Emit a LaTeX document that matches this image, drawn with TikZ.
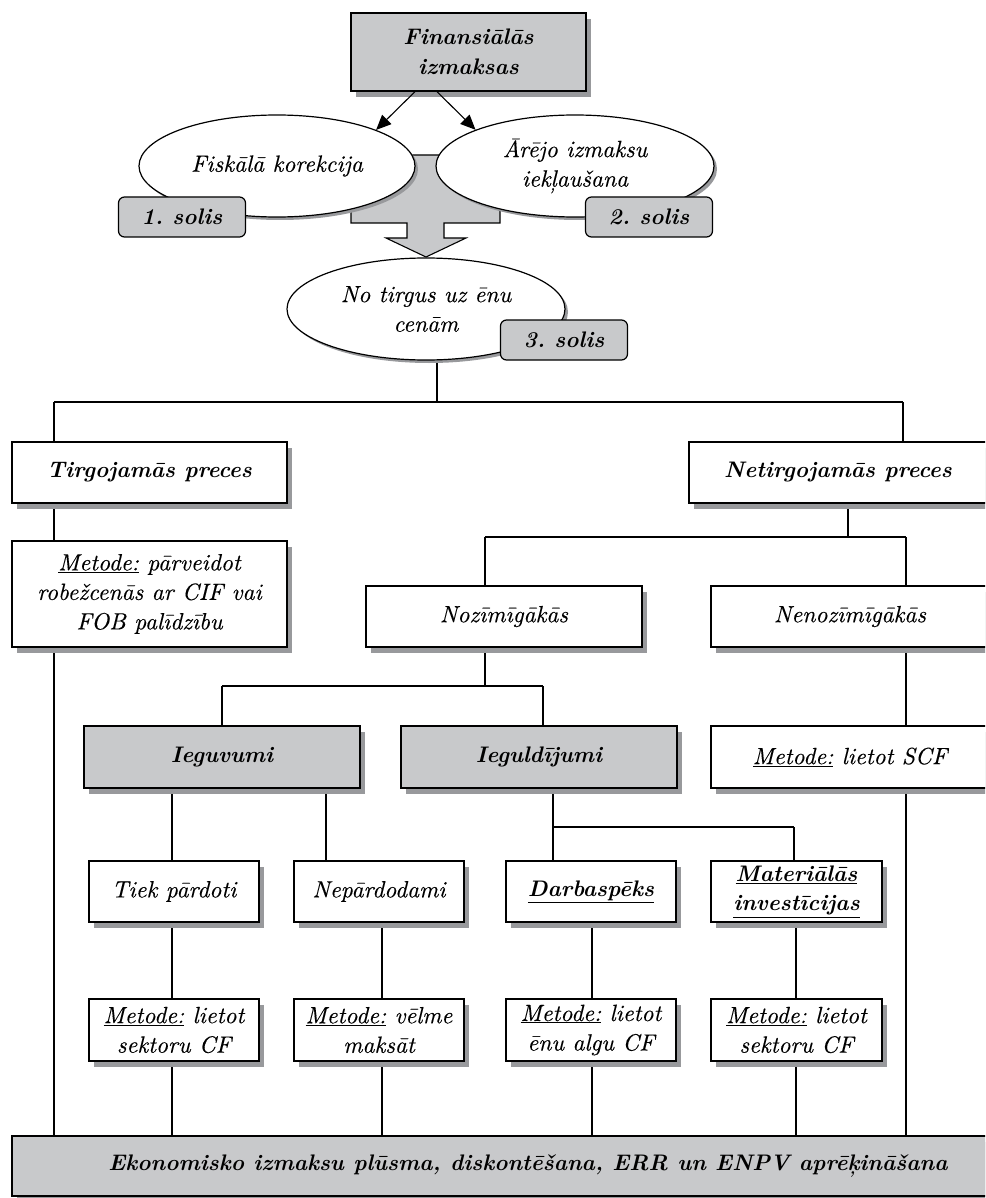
\documentclass[tikz,border=0pt]{standalone}
\usepackage{fontspec}
\setmainfont{lmroman10-regular.otf}[
  ItalicFont=lmroman10-italic.otf,
  BoldFont=lmroman10-bold.otf,
  BoldItalicFont=lmroman10-bolditalic.otf,
  ItalicFeatures={FakeBold=0.25}]
\frenchspacing
\usetikzlibrary{shapes.geometric,shadows,arrows.meta,backgrounds}
\definecolor{boxgray}{RGB}{200,201,203}
\definecolor{shadowgray}{RGB}{152,153,156}
\begin{document}
\begin{tikzpicture}[x=1pt,y=-1pt,
  it/.style={font=\itshape\fontsize{23.5}{29.5}\selectfont},
  bf/.style={font=\bfseries\itshape\fontsize{22.5}{29.5}\selectfont},
  shad/.style={drop shadow={shadow xshift=5pt,shadow yshift=-6pt,fill=shadowgray,opacity=1}},
  box/.style={draw=black,line width=1.3pt,rectangle,fill=white,align=center,inner sep=0pt,shad},
  gbox/.style={box,fill=boxgray},
  oval/.style={draw=black,line width=1.2pt,ellipse,fill=white,align=center,inner sep=0pt,
     drop shadow={shadow xshift=3pt,shadow yshift=-3pt,fill=shadowgray,opacity=1}},
  soltag/.style={draw=black,line width=1.2pt,rounded corners=6pt,fill=boxgray,align=center,
     inner sep=0pt,minimum width=127pt,minimum height=40pt,bf},
  conn/.style={draw=black,line width=1.1pt},
  arr/.style={conn,-{Triangle[length=15pt,width=13pt]}},
]
\useasboundingbox (0,0) rectangle (985,1198);
\clip (0,0) rectangle (985,1198);

% top part
\node[gbox,bf,minimum width=235pt,minimum height=78pt] (top) at (468.5,52) {Finansiālās\\izmaksas};

\draw[line width=1.1pt,fill=boxgray] (351,155) -- (500,155) -- (500,223) -- (444,223) -- (444,238)
  -- (466,238) -- (426,257) -- (386,238) -- (407,238) -- (407,223) -- (351,223) -- cycle;

\node[oval,it,minimum width=276pt,minimum height=102pt] (e1) at (277,166) {Fiskālā korekcija};
\node[oval,it,minimum width=278pt,minimum height=102pt] (e2) at (575,166) {Ārējo izmaksu\\iekļaušana};
\node[soltag] (s1) at (182,217) {1. solis};
\node[soltag] (s2) at (649,217) {2. solis};

\draw[arr] ([xshift=-53.5pt]top.south) -- (e1.20);
\draw[arr] ([xshift=-31.5pt]top.south) -- (e2.160);

\node[oval,it,minimum width=278pt,minimum height=102pt] (e3) at (426,309) {No tirgus uz ēnu\\cenām};
\node[soltag] (s3) at (564,340) {3. solis};

% boxes
\node[box,bf,minimum width=275pt,minimum height=61pt] (tirg) at (149.5,472.5) {Tirgojamās preces};
\node[box,it,line width=2.4pt,minimum width=275pt,minimum height=106pt] (tmet) at (149.5,594)
  {\underline{Metode:} pārveidot\\robežcenās ar CIF vai\\FOB palīdzību};
\node[box,bf,minimum width=298pt,minimum height=61pt] (net) at (838,472.5) {Netirgojamās preces};
\node[box,it,minimum width=276pt,minimum height=61pt] (noz) at (504,616.5) {Nozīmīgākās};
\node[box,it,minimum width=278pt,minimum height=61pt] (nenoz) at (850,616.5) {Nenozīmīgākās};
\node[gbox,bf,minimum width=276pt,minimum height=62pt] (ieguv) at (222,757) {Ieguvumi};
\node[gbox,bf,minimum width=276pt,minimum height=62pt] (iegul) at (539,757) {Ieguldījumi};
\node[box,it,minimum width=278pt,minimum height=62pt] (scf) at (850,757) {\underline{Metode:} lietot SCF};
\node[box,it,minimum width=170pt,minimum height=61pt] (tiek) at (174,891.5) {Tiek pārdoti};
\node[box,it,minimum width=170pt,minimum height=61pt] (nepar) at (379,891.5) {Nepārdodami};
\node[box,bf,minimum width=170pt,minimum height=61pt] (darb) at (591,891.5) {\underline{Darbaspēks}};
\node[box,bf,minimum width=171pt,minimum height=61pt] (mat) at (796.5,891.5) {\underline{Materiālās}\\\underline{investīcijas}};
\node[box,it,minimum width=170pt,minimum height=62pt] (m1) at (174,1030) {\underline{Metode:} lietot\\sektoru CF};
\node[box,it,minimum width=170pt,minimum height=62pt] (m2) at (379,1030) {\underline{Metode:} vēlme\\maksāt};
\node[box,it,minimum width=170pt,minimum height=62pt] (m3) at (591,1030) {\underline{Metode:} lietot\\ēnu algu CF};
\node[box,it,minimum width=171pt,minimum height=62pt] (m4) at (796.5,1030) {\underline{Metode:} lietot\\sektoru CF};
\node[gbox,bf,minimum width=1032pt,minimum height=60pt] (eko) at (528,1166)
  {Ekonomisko izmaksu plūsma, diskontēšana, ERR un ENPV aprēķināšana};

% connectors
\coordinate (busL) at (54,402);
\coordinate (busR) at (903,402);
\coordinate (c848) at (848,537);
\coordinate (b2L) at (485,537);
\coordinate (b2R) at (906,537);
\coordinate (b3m) at (485,686);
\coordinate (b3L) at (222,686);
\coordinate (b3R) at (543,686);
\coordinate (b4L) at (553,827);
\coordinate (b4R) at (794,827);
\coordinate (xa) at (172,0);
\coordinate (xb) at (326,0);
\coordinate (xc) at (382,0);
\coordinate (xd) at (592,0);
\coordinate (xe) at (796,0);
\begin{scope}[on background layer]
\draw[conn] (busL) -- (busR);
\draw[conn] ([xshift=11pt]e3.south) -- ([xshift=11pt]e3.south |- busL);
\draw[conn] (busL) -- (busL |- tirg.north);
\draw[conn] (busR) -- (busR |- net.north);
\draw[conn] (tirg.south -| busL) -- (tmet.north -| busL);
\draw[conn] (tmet.south -| busL) -- (eko.north -| busL);
\draw[conn] (net.south -| c848) -- (c848);
\draw[conn] (b2L) -- (b2R);
\draw[conn] (b2L) -- (b2L |- noz.north);
\draw[conn] (b2R) -- (b2R |- nenoz.north);
\draw[conn] (noz.south -| b3m) -- (b3m);
\draw[conn] (b3L) -- (b3R);
\draw[conn] (b3L) -- (b3L |- ieguv.north);
\draw[conn] (b3R) -- (b3R |- iegul.north);
\draw[conn] (nenoz.south -| b2R) -- (scf.north -| b2R);
\draw[conn] (scf.south -| b2R) -- (eko.north -| b2R);
\draw[conn] (ieguv.south -| xa) -- (tiek.north -| xa);
\draw[conn] (tiek.south -| xa) -- (m1.north -| xa);
\draw[conn] (m1.south -| xa) -- (eko.north -| xa);
\draw[conn] (ieguv.south -| xb) -- (nepar.north -| xb);
\draw[conn] (nepar.south -| xc) -- (m2.north -| xc);
\draw[conn] (m2.south -| xc) -- (eko.north -| xc);
\draw[conn] (iegul.south -| b4L) -- (b4L);
\draw[conn] (b4L) -- (b4R);
\draw[conn] (b4L) -- (b4L |- darb.north);
\draw[conn] (b4R) -- (b4R |- mat.north);
\draw[conn] (darb.south -| xd) -- (m3.north -| xd);
\draw[conn] (m3.south -| xd) -- (eko.north -| xd);
\draw[conn] (mat.south -| xe) -- (m4.north -| xe);
\draw[conn] (m4.south -| xe) -- (eko.north -| xe);
\end{scope}
\end{tikzpicture}
\end{document}
